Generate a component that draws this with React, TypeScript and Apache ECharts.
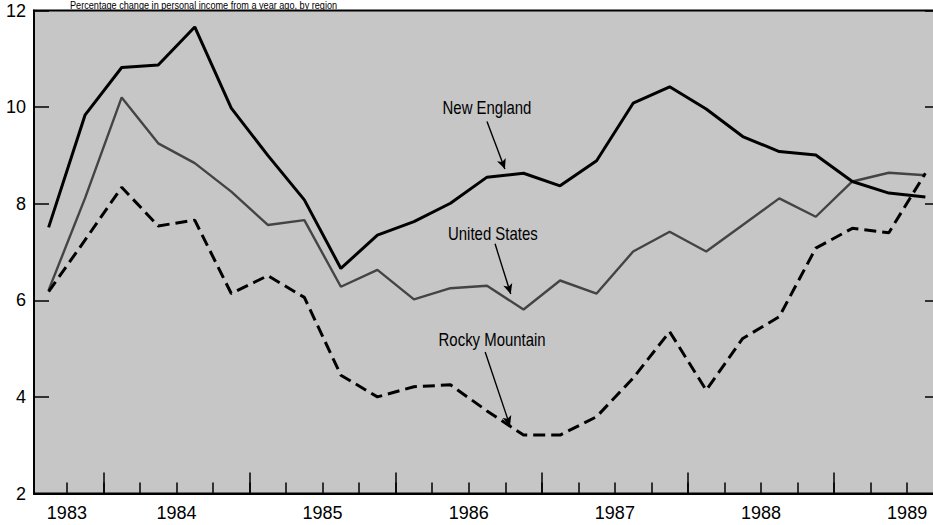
import React, { useEffect, useRef } from "react";
import * as echarts from "echarts";

// Quarterly observations, 1983 Q3 through 1989 Q3 (x = quarter index)
const quarters = [
  "1983Q3", "1983Q4", "1984Q1", "1984Q2", "1984Q3", "1984Q4", "1985Q1", "1985Q2", "1985Q3",
  "1985Q4", "1986Q1", "1986Q2", "1986Q3", "1986Q4", "1987Q1", "1987Q2", "1987Q3", "1987Q4",
  "1988Q1", "1988Q2", "1988Q3", "1988Q4", "1989Q1", "1989Q2", "1989Q3",
];

const newEngland = [
  7.51, 9.84, 10.82, 10.87, 11.66, 9.98, 9.0, 8.08, 6.66, 7.35, 7.63, 8.01, 8.55,
  8.63, 8.37, 8.89, 10.08, 10.42, 9.96, 9.39, 9.08, 9.01, 8.46, 8.22, 8.14,
];
const unitedStates = [
  6.21, 8.12, 10.2, 9.25, 8.84, 8.25, 7.56, 7.66, 6.28, 6.63, 6.02, 6.25, 6.3,
  5.81, 6.41, 6.14, 7.01, 7.42, 7.01, 7.56, 8.11, 7.73, 8.46, 8.64, 8.59,
];
const rockyMountain = [
  6.18, 7.25, 8.34, 7.54, 7.66, 6.14, 6.51, 6.06, 4.45, 4.0, 4.21, 4.25, 3.71,
  3.21, 3.21, 3.59, 4.39, 5.35, 4.14, 5.21, 5.66, 7.08, 7.49, 7.4, 8.63,
];

// Axis ticks / labels (in quarter-index units)
const quarterTicks = [
  0.5, 1.5, 2.5, 3.5, 4.5, 5.5, 6.5, 7.5, 8.5, 9.5, 10.5, 11.5, 12.5, 13.5, 14.5, 15.5,
  16.5, 17.5, 18.5, 19.5, 20.5, 21.5, 22.5, 23.5,
];
const yearTicks = [1.5, 5.5, 9.5, 13.5, 17.5, 21.5];
const yearLabels = ["1983", "1984", "1985", "1986", "1987", "1988", "1989"];
const yearLabelPos = [0.5, 3.5, 7.5, 11.5, 15.5, 19.5, 23.5];

// Annotation labels and their anchor points (data coordinates)
const seriesNames = ["New England", "United States", "Rocky Mountain"];
const labelAnchors = [
  [12.0, 9.98],
  [12.16, 7.37],
  [12.14, 5.18],
];

const titleText = "Percentage change in personal income from a year ago, by region";

const FONT = "'Liberation Sans', Arial, Helvetica, sans-serif";

const toPairs = (vals: number[]) => vals.map((v, i) => [i, v]);

function arrowLine(from: number[], to: number[]) {
  return {
    silent: true,
    symbol: ["none", "arrow"],
    symbolSize: [7, 10],
    label: { show: false },
    emphasis: { disabled: true },
    lineStyle: { color: "#000", width: 1.4, type: "solid" },
    data: [[{ coord: from }, { coord: to }]],
  };
}

export default function App() {
  const ref = useRef<HTMLDivElement>(null);

  useEffect(() => {
    if (!ref.current) return;
    const chart = echarts.init(ref.current, undefined, { renderer: "svg" });
    const xMin = -0.4;
    const xMax = 24.4;
    const labelMap: Record<string, string> = {};
    yearLabelPos.forEach((p, i) => (labelMap[String(p)] = yearLabels[i]));

    chart.setOption({
      animation: false,
      backgroundColor: "#fff",
      grid: {
        left: 34,
        right: 10,
        top: 10.5,
        bottom: 31.5,
        show: true,
        backgroundColor: "#c6c6c6",
        borderColor: "#000",
        borderWidth: 2,
      },
      xAxis: [
        {
          type: "value",
          min: xMin,
          max: xMax,
          position: "bottom",
          axisLine: { show: true, onZero: false, lineStyle: { color: "#000", width: 2 } },
          splitLine: { show: false },
          axisTick: {
            show: true,
            inside: true,
            length: 11,
            customValues: quarterTicks,
            lineStyle: { color: "#000", width: 1.5 },
          },
          axisLabel: {
            customValues: yearLabelPos,
            formatter: (v: number) => labelMap[String(v)] ?? "",
            fontFamily: FONT,
            fontSize: 18,
            color: "#000",
            margin: 10,
          },
        },
        {
          type: "value",
          min: xMin,
          max: xMax,
          position: "bottom",
          axisLine: { show: false, onZero: false },
          splitLine: { show: false },
          axisTick: {
            show: true,
            inside: true,
            length: 21,
            customValues: yearTicks,
            lineStyle: { color: "#000", width: 1.5 },
          },
          axisLabel: { show: false },
        },
      ],
      yAxis: [
        {
          type: "value",
          min: 2,
          max: 12,
          interval: 2,
          axisLine: { show: true, onZero: false, lineStyle: { color: "#000", width: 2 } },
          axisTick: { show: true, inside: true, length: 15, lineStyle: { color: "#000", width: 1.5 } },
          splitLine: { show: false },
          axisLabel: { fontFamily: FONT, fontSize: 18, color: "#000", margin: 8 },
        },
        {
          type: "value",
          min: 2,
          max: 12,
          interval: 2,
          position: "right",
          axisLine: { show: true, onZero: false, lineStyle: { color: "#000", width: 2 } },
          axisTick: { show: true, inside: true, length: 15, lineStyle: { color: "#000", width: 1.5 } },
          splitLine: { show: false },
          axisLabel: { show: false },
        },
      ],
      series: [
        {
          name: seriesNames[0],
          type: "line",
          data: toPairs(newEngland),
          showSymbol: false,
          symbol: "none",
          lineStyle: { color: "#000", width: 3 },
          z: 4,
          markLine: arrowLine([12.0, 9.7], [12.49, 8.72]),
        },
        {
          name: seriesNames[1],
          type: "line",
          data: toPairs(unitedStates),
          showSymbol: false,
          symbol: "none",
          lineStyle: { color: "#444", width: 2.4 },
          z: 3,
          markLine: arrowLine([12.22, 7.17], [12.65, 6.13]),
        },
        {
          name: seriesNames[2],
          type: "line",
          data: toPairs(rockyMountain),
          showSymbol: false,
          symbol: "none",
          lineStyle: { color: "#000", width: 3, type: [12, 6] },
          z: 4,
          markLine: arrowLine([11.95, 4.93], [12.63, 3.4]),
        },
      ],
    });

    // Condensed annotation labels, placed at data-coordinate anchors
    const labels = seriesNames.map((name, i) => {
      const p = chart.convertToPixel({ gridIndex: 0 }, labelAnchors[i]) as number[];
      return {
        type: "text",
        x: p[0],
        y: p[1],
        scaleX: 0.83,
        silent: true,
        z: 10,
        style: {
          text: name,
          font: `18px ${FONT}`,
          fill: "#000",
          textAlign: "center",
          textVerticalAlign: "middle",
        },
      };
    });
    chart.setOption({
      graphic: [
        {
          type: "text",
          x: 70,
          y: 0,
          scaleX: 0.83,
          silent: true,
          style: { text: titleText, font: `11px ${FONT}`, fill: "#000" },
        },
        ...labels,
      ],
    });
    return () => chart.dispose();
  }, []);

  return (
    <div
      ref={ref}
      style={{ position: "fixed", left: 0, top: 0, width: 950, height: 525 }}
      data-quarters={quarters.length}
    />
  );
}
